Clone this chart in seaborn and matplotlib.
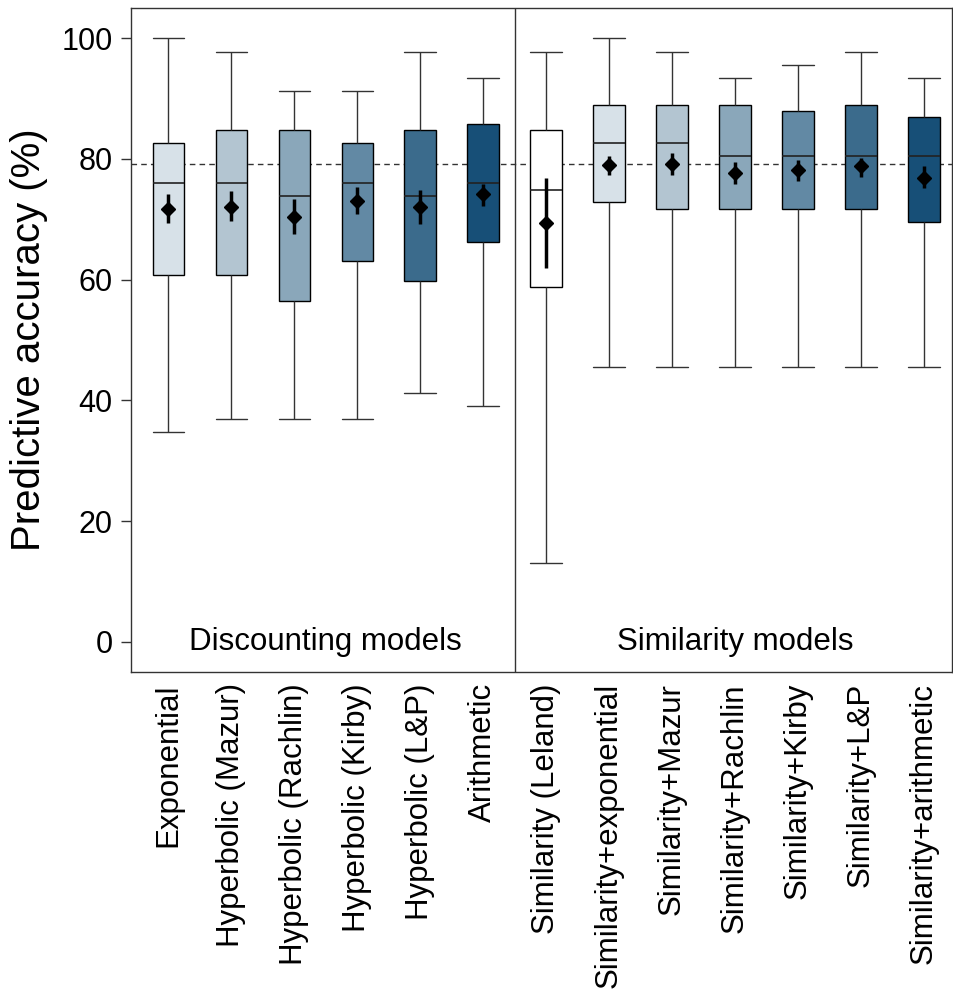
import numpy as np
import pandas as pd
import matplotlib.pyplot as plt
import seaborn as sns

# model names, in plotting order
models = [
    "Exponential", "Hyperbolic (Mazur)", "Hyperbolic (Rachlin)", "Hyperbolic (Kirby)",
    "Hyperbolic (L&P)", "Arithmetic", "Similarity (Leland)", "Similarity+exponential",
    "Similarity+Mazur", "Similarity+Rachlin", "Similarity+Kirby", "Similarity+L&P",
    "Similarity+arithmetic",
]

# five-number summaries (%)
acc_min = [34.7, 36.9, 36.9, 36.9, 41.2, 39.1, 13.1, 45.6, 45.6, 45.6, 45.6, 45.6, 45.6]
acc_q1 = [60.8, 60.8, 56.5, 63.0, 59.7, 66.2, 58.7, 72.8, 71.7, 71.7, 71.7, 71.7, 69.5]
acc_med = [76.0, 76.0, 73.8, 76.0, 73.8, 76.0, 74.9, 82.6, 82.6, 80.4, 80.4, 80.4, 80.4]
acc_q3 = [82.6, 84.8, 84.8, 82.6, 84.8, 85.8, 84.8, 89.0, 89.0, 89.0, 88.0, 89.0, 86.9]
acc_max = [100.0, 97.7, 91.3, 91.3, 97.7, 93.4, 97.7, 100.0, 97.7, 93.4, 95.6, 97.7, 93.4]

# mean and error bar ends
acc_mean = [71.7, 72.1, 70.4, 73.1, 72.1, 74.1, 69.4, 79.0, 79.1, 77.7, 78.1, 78.8, 76.9]
err_lo = [69.3, 69.7, 67.5, 70.9, 69.2, 72.2, 62.0, 77.4, 77.4, 75.9, 76.4, 77.0, 75.2]
err_hi = [74.1, 74.6, 73.3, 75.3, 74.9, 75.9, 76.8, 80.5, 81.0, 79.4, 79.8, 80.2, 78.8]

baseline = 79.1

blues = ["#d7e1e8", "#b3c5d1", "#8aa7ba", "#6289a4", "#3b6b8c", "#174f77"]
colors = blues + ["#ffffff"] + blues

# long format: the 5 numbers give exactly these quartiles
rows = []
for i, m in enumerate(models):
    for v in (acc_min[i], acc_q1[i], acc_med[i], acc_q3[i], acc_max[i]):
        rows.append({"model": m, "acc": v})
df = pd.DataFrame(rows)

sns.set_theme(style="ticks")
plt.rcParams["font.family"] = ["Liberation Sans", "DejaVu Sans"]
plt.rcParams["text.color"] = "black"
plt.rcParams["xtick.color"] = "black"
plt.rcParams["ytick.color"] = "black"
plt.rcParams["axes.labelcolor"] = "black"

fig = plt.figure(figsize=(9.54, 9.92), dpi=100)
ax = fig.add_axes([0.137, 0.3226, 0.861, 0.6694])

box_w = 0.5
sns.boxplot(data=df, x="model", y="acc", hue="model", palette=colors, order=models,
            hue_order=models, legend=False, width=box_w, whis=(0, 100), ax=ax,
            saturation=1, linecolor="black", linewidth=1.0, dodge=False,
            whiskerprops={"color": "#333333"}, capprops={"color": "#333333"},
            medianprops={"color": "#222222", "linewidth": 1.2})

# caps as wide as the boxes
for cont in ax.containers:
    for cap in getattr(cont, "caps", []):
        xs = cap.get_xdata()
        c = np.mean(xs)
        cap.set_xdata([c - box_w / 2, c + box_w / 2])

x = np.arange(len(models))
mean = np.array(acc_mean)
yerr = np.vstack([mean - np.array(err_lo), np.array(err_hi) - mean])
ax.errorbar(x, mean, yerr=yerr, fmt="D", color="black", markersize=7.5,
            elinewidth=2.5, capsize=0, zorder=5)

ax.axhline(baseline, color="#333333", linestyle=(0, (4, 3)), linewidth=1.0, zorder=1)
ax.axvline(5.5, color="#333333", linewidth=1.0)

ax.text(2.5, 0, "Discounting models", ha="center", va="center", fontsize=22.5)
ax.text(9.0, 0, "Similarity models", ha="center", va="center", fontsize=22.5)

ax.set_xlim(-0.6, 12.45)
ax.set_ylim(-5, 105)
ax.set_yticks([0, 20, 40, 60, 80, 100])
ax.tick_params(axis="y", labelsize=22, length=7, width=1, color="#333333", pad=6)
ax.tick_params(axis="x", length=0, labelsize=22.5, pad=8)
ax.set_xticks(x)
ax.set_xticklabels(models, rotation=90)
ax.set_xlabel("")
ax.set_ylabel("Predictive accuracy (%)", fontsize=29, labelpad=10)
for s in ax.spines.values():
    s.set_visible(True)
    s.set_color("#333333")
    s.set_linewidth(1.0)

plt.savefig("out.png", dpi=100)
